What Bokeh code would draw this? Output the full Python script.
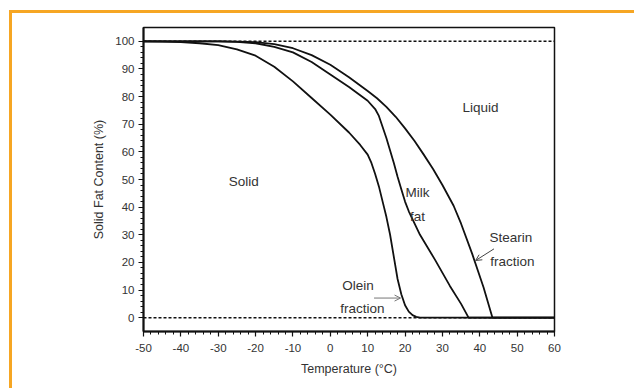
from bokeh.plotting import figure
from bokeh.models import Range1d, FixedTicker, Arrow, OpenHead, Label, Span
from bokeh.embed import file_html
from bokeh.resources import INLINE

# ---- data ----
olein_temp = [-50, -45, -40, -35, -30, -25, -20, -15, -10, -5, 0, 5, 8, 10, 11, 12, 13, 14, 15, 16, 17, 18, 19, 20, 21, 22, 23, 24, 60]
olein_sfc = [100, 99.9, 99.7, 99.3, 98.6, 97.1, 94.8, 90.8, 85.5, 79.5, 73.5, 67, 62.5, 59, 56, 52, 47.5, 42, 36.5, 30, 22, 14, 8.5, 4.5, 2.2, 0.9, 0.3, 0, 0]

milk_temp = [-50, -30, -25, -20, -15, -10, -5, 0, 5, 10, 12, 13, 14, 15, 16, 17, 18, 19, 20, 21, 24, 28, 32, 35, 37, 60]
milk_sfc = [100, 100, 99.8, 99.3, 98, 96, 92.5, 88, 83.5, 78.5, 75.5, 73, 69, 65, 60.5, 56, 51, 46.5, 42, 38.5, 30, 21, 11.5, 5, 0, 0]

stearin_temp = [-50, -30, -25, -20, -15, -10, -5, 0, 5, 10, 12.5, 15, 17.5, 20, 22.5, 25, 27.5, 30, 33, 35, 38, 41, 43.4, 60]
stearin_sfc = [100, 100, 99.9, 99.7, 99, 97.5, 95, 91.5, 87, 82, 79.4, 76.3, 72.7, 68.5, 64, 59, 53.8, 48, 40.5, 34, 23, 11, 0, 0]

x_ticks = [-50, -40, -30, -20, -10, 0, 10, 20, 30, 40, 50, 60]
x_tick_labels = ["-50", "-40", "-30", "-20", "-10", "0", "10", "20", "30", "40", "50", "60"]
y_ticks = [0, 10, 20, 30, 40, 50, 60, 70, 80, 90, 100]
y_tick_labels = ["0", "10", "20", "30", "40", "50", "60", "70", "80", "90", "100"]

FONT = "Liberation Sans"
INK = "#111111"
TXT = "#333333"
ORANGE = "#F6A623"

p = figure(width=634, height=388, output_backend="svg", toolbar_location=None,
           x_range=Range1d(-50, 60), y_range=Range1d(-5, 105),
           min_border_left=143, min_border_right=80, min_border_top=27, min_border_bottom=57,
           background_fill_color="white", border_fill_alpha=0)
# orange page frame (top and left) drawn behind the transparent canvas border
p.styles = {
    "background-color": "white",
    "background-image": f"linear-gradient({ORANGE},{ORANGE}), linear-gradient({ORANGE},{ORANGE})",
    "background-size": "625px 3px, 3px 379px",
    "background-position": "9px 10px, 9px 10px",
    "background-repeat": "no-repeat",
}
p.grid.visible = False
p.outline_line_color = INK
p.outline_line_width = 1.5

p.xaxis.ticker = FixedTicker(ticks=x_ticks, minor_ticks=list(range(-50, 61, 2)))
p.yaxis.ticker = FixedTicker(ticks=y_ticks, minor_ticks=list(range(0, 101, 2)))
p.xaxis.major_label_overrides = {t: s for t, s in zip(x_ticks, x_tick_labels)}
p.yaxis.major_label_overrides = {t: s for t, s in zip(y_ticks, y_tick_labels)}

for ax in (p.xaxis[0], p.yaxis[0]):
    ax.axis_line_color = INK
    ax.axis_line_width = 2
    ax.major_tick_line_color = INK
    ax.minor_tick_line_color = INK
    ax.major_tick_line_width = 1.2
    ax.minor_tick_line_width = 1
    ax.major_tick_out = 5
    ax.major_tick_in = 0
    ax.minor_tick_out = 3
    ax.minor_tick_in = 0
    ax.major_label_text_font = FONT
    ax.major_label_text_font_size = "11.5px"
    ax.major_label_text_color = TXT
    ax.axis_label_text_font = FONT
    ax.axis_label_text_font_size = "12.5px"
    ax.axis_label_text_font_style = "normal"
    ax.axis_label_text_color = TXT

p.xaxis.axis_label = "Temperature (°C)"
p.yaxis.axis_label = "Solid Fat Content (%)"
p.xaxis.major_label_standoff = 7
p.yaxis.major_label_standoff = 4
p.xaxis.axis_label_standoff = 7
p.yaxis.axis_label_standoff = 6

# reference lines at 0 and 100 %
for lvl in (0, 100):
    p.add_layout(Span(location=lvl, dimension="width", line_color=INK,
                      line_width=1.5, line_dash="3 2"))

# curves
for xs, ys in ((olein_temp, olein_sfc), (milk_temp, milk_sfc), (stearin_temp, stearin_sfc)):
    p.line(xs, ys, line_color=INK, line_width=1.8, line_join="round")

# region / curve labels
labels = [
    ("Solid", -23.2, 49.3, "center"),
    ("Liquid", 40.2, 76.1, "center"),
    ("Milk", 20.1, 45.4, "left"),
    ("fat", 21.3, 36.6, "left"),
    ("Stearin", 42.6, 29.0, "left"),
    ("fraction", 42.8, 20.3, "left"),
    ("Olein", 7.4, 11.8, "center"),
    ("fraction", 8.6, 3.4, "center"),
]
for txt, lx, ly, al in labels:
    p.add_layout(Label(x=lx, y=ly, text=txt, text_font=FONT, text_font_size="13.5px",
                       text_color=TXT, text_align=al, text_baseline="middle"))

# arrows
p.add_layout(Arrow(x_start=11.7, y_start=7.1, x_end=18.8, y_end=7.1,
                   line_color="#777777", line_width=1,
                   end=OpenHead(size=6, line_color="#777777", line_width=1)))
p.add_layout(Arrow(x_start=43.8, y_start=24.9, x_end=38.9, y_end=20.7,
                   line_color="#444444", line_width=1,
                   end=OpenHead(size=6, line_color="#444444", line_width=1)))

open("out.html", "w").write(file_html(p, INLINE))
